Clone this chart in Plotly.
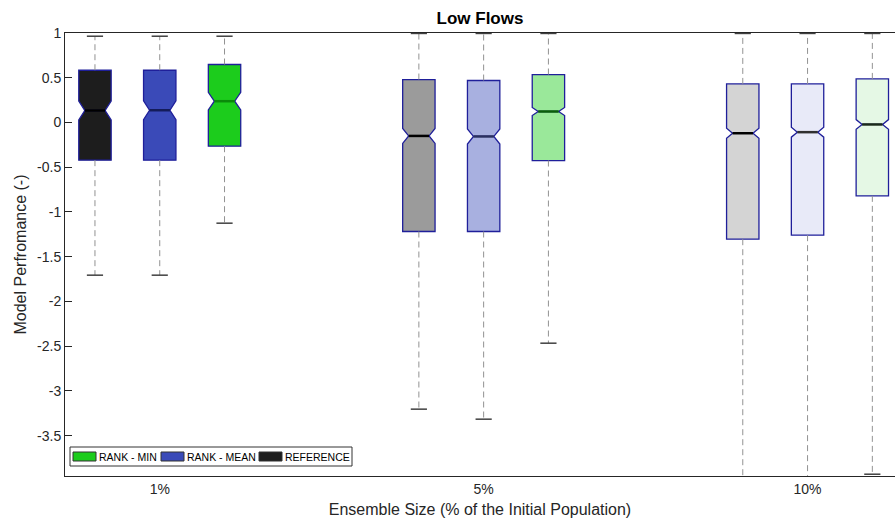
import plotly.graph_objects as go

# Ensemble sizes on the x axis and the three ranking series
groups = ["1%", "5%", "10%"]
series = ["REFERENCE", "RANK - MEAN", "RANK - MIN"]
legend_order = ["RANK - MIN", "RANK - MEAN", "REFERENCE"]

# Box statistics (one value per ensemble size)
ref_q1 = [-0.421, -1.218, -1.304]
ref_med = [0.134, -0.150, -0.120]
ref_q3 = [0.584, 0.480, 0.431]
ref_lo = [-1.706, -3.203, -4.60]
ref_hi = [0.964, 0.995, 0.995]
ref_notch = [0.106, 0.084, 0.056]

mean_q1 = [-0.421, -1.218, -1.259]
mean_med = [0.137, -0.156, -0.108]
mean_q3 = [0.584, 0.469, 0.431]
mean_lo = [-1.706, -3.315, -4.60]
mean_hi = [0.964, 0.995, 0.995]
mean_notch = [0.106, 0.084, 0.056]

min_q1 = [-0.265, -0.425, -0.820]
min_med = [0.238, 0.123, -0.022]
min_q3 = [0.648, 0.536, 0.487]
min_lo = [-1.125, -2.466, -3.93]
min_hi = [0.964, 0.995, 0.995]
min_notch = [0.098, 0.045, 0.054]

y_ticks = [1, 0.5, 0, -0.5, -1, -1.5, -2, -2.5, -3, -3.5]
y_tick_labels = ["1", "0.5", "0", "-0.5", "-1", "-1.5", "-2", "-2.5", "-3", "-3.5"]

# Styling
FONT = "Arial, Liberation Sans, sans-serif"
TEXT = "#262626"
OUTLINE = "#1f1f9a"
fills = {
    "REFERENCE": ["#1d1d1d", "#9b9b9b", "#d4d4d4"],
    "RANK - MEAN": ["#3a4ab8", "#a8b0e0", "#e8eaf8"],
    "RANK - MIN": ["#1ccc1c", "#9ae89a", "#e5f8e5"],
}
median_colors = {
    "REFERENCE": ["#000000", "#000000", "#000000"],
    "RANK - MEAN": ["#141c5a", "#2a3060", "#303030"],
    "RANK - MIN": ["#0a8a0a", "#0b5e0b", "#1a2a1a"],
}
offsets = {"REFERENCE": -0.2, "RANK - MEAN": 0.0, "RANK - MIN": 0.2}
BOX_W = 0.1
NOTCH_W = 0.185          # plotly narrows the waist to (1 - 2*notchwidth) of the box
CAP_HALF = 0.025

stats = {
    "REFERENCE": (ref_q1, ref_med, ref_q3, ref_lo, ref_hi, ref_notch),
    "RANK - MEAN": (mean_q1, mean_med, mean_q3, mean_lo, mean_hi, mean_notch),
    "RANK - MIN": (min_q1, min_med, min_q3, min_lo, min_hi, min_notch),
}

# Plot-area geometry in pixels
W, H = 895, 523
ML, MR, MT, MB = 65, 0, 33, 47
PW, PH = W - ML - MR, H - MT - MB


def px_x(px):
    return (px - ML) / PW


def px_y(py):
    return (H - MB - py) / PH


fig = go.Figure()

wx, wy, cx, cy = [], [], [], []
for name in series:
    q1, med, q3, lo, hi, ns = stats[name]
    for g in range(len(groups)):
        pos = g + 1 + offsets[name]
        fig.add_trace(go.Box(
            x=[pos], q1=[q1[g]], median=[med[g]], q3=[q3[g]],
            lowerfence=[q1[g]], upperfence=[q3[g]],
            notched=True, notchspan=[ns[g]], notchwidth=NOTCH_W,
            width=BOX_W, whiskerwidth=0, orientation="v",
            fillcolor=fills[name][g], line=dict(color=OUTLINE, width=1.3),
            name=name, showlegend=False, hoverinfo="skip",
        ))
        # median bar across the notch waist
        half = BOX_W / 2 * (1 - 2 * NOTCH_W)
        fig.add_trace(go.Scatter(
            x=[pos - half, pos + half], y=[med[g], med[g]], mode="lines",
            line=dict(color=median_colors[name][g], width=2.5),
            showlegend=False, hoverinfo="skip",
        ))
        wx += [pos, pos, None, pos, pos, None]
        wy += [q3[g], hi[g], None, q1[g], lo[g], None]
        cx += [pos - CAP_HALF, pos + CAP_HALF, None, pos - CAP_HALF, pos + CAP_HALF, None]
        cy += [hi[g], hi[g], None, lo[g], lo[g], None]

fig.add_trace(go.Scatter(x=wx, y=wy, mode="lines",
                         line=dict(color="#929292", width=1, dash="6px,4px"),
                         showlegend=False, hoverinfo="skip"))
fig.add_trace(go.Scatter(x=cx, y=cy, mode="lines",
                         line=dict(color="#404040", width=1.5),
                         showlegend=False, hoverinfo="skip"))

# Legend box drawn in the lower-left corner of the axes
shapes = [dict(type="rect", xref="paper", yref="paper",
               x0=px_x(70), x1=px_x(352), y0=px_y(466), y1=px_y(447),
               fillcolor="white", line=dict(color="#333333", width=1), layer="above")]
annotations = []
swatch_left = [73, 161, 259]
for name, sx in zip(legend_order, swatch_left):
    shapes.append(dict(type="rect", xref="paper", yref="paper",
                       x0=px_x(sx), x1=px_x(sx + 23), y0=px_y(461), y1=px_y(452),
                       fillcolor=fills[name][0], line=dict(color="#333333", width=1),
                       layer="above"))
    annotations.append(dict(text=name, xref="paper", yref="paper",
                            x=px_x(sx + 24), y=px_y(456.5), xanchor="left", yanchor="middle",
                            showarrow=False, font=dict(size=10.5, color="#000000", family=FONT)))

fig.update_layout(
    width=W, height=H,
    margin=dict(l=ML, r=MR, t=MT, b=MB),
    paper_bgcolor="white", plot_bgcolor="white",
    font=dict(family=FONT, color=TEXT, size=14),
    boxmode="overlay", showlegend=False,
    shapes=shapes, annotations=annotations,
    title=dict(text="<b>Low Flows</b>", x=0.5, xref="paper", xanchor="center",
               y=1 - 18 / H, yref="container", yanchor="middle",
               font=dict(size=17, color="#000000", family=FONT)),
)
fig.update_xaxes(
    range=[0.7075, 3.27], tickvals=[1, 2, 3], ticktext=groups,
    showline=True, mirror=True, linecolor=TEXT, linewidth=1,
    ticks="", showgrid=False, zeroline=False,
    tickfont=dict(size=14, color=TEXT),
    title=dict(text="Ensemble Size (% of the Initial Population)", font=dict(size=16, color=TEXT), standoff=8),
)
fig.update_yaxes(
    range=[-3.95, 1.0], tickvals=y_ticks, ticktext=y_tick_labels,
    showline=True, mirror=False, linecolor=TEXT, linewidth=1,
    ticks="inside", ticklen=7, tickcolor=TEXT,
    showgrid=False, zeroline=False,
    tickfont=dict(size=14, color=TEXT),
    title=dict(text="Model Perfromance (-)", font=dict(size=16, color=TEXT), standoff=6),
)

fig.write_html("out.html")
